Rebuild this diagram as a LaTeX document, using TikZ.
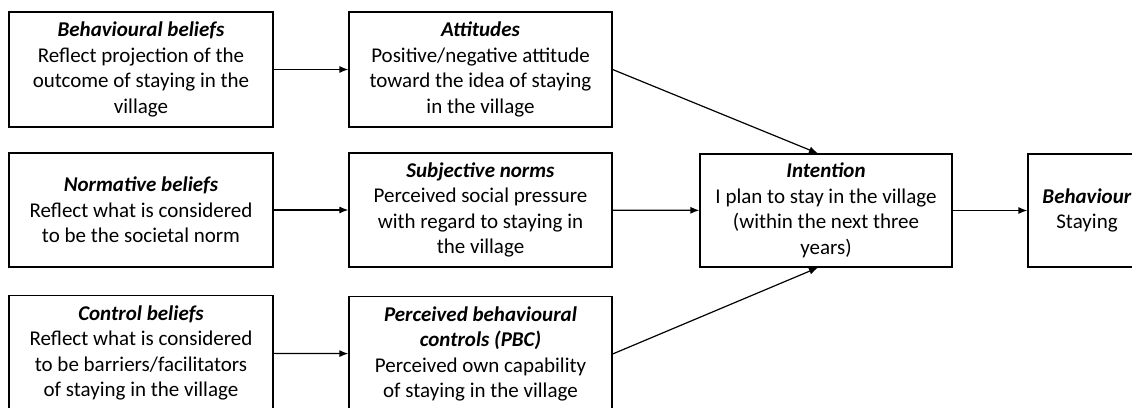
\documentclass[tikz,border=0pt]{standalone}
\usepackage{fontspec}
\setmainfont{Carlito}
\usetikzlibrary{arrows.meta}

\tikzset{
  tpbbox/.style={draw, line width=1.2pt, align=center, inner sep=0pt,
    minimum height=115pt, minimum width=264pt,
    font=\fontsize{21}{25.5}\selectfont},
  tpbarrow/.style={line width=1.2pt, -{Latex[length=9pt,width=7pt]}}
}
\newcommand{\boxtitle}[1]{\textbf{\textit{#1}}}

\begin{document}
\begin{tikzpicture}[x=1pt,y=-1pt]
        \useasboundingbox (0,0) rectangle (1132,407);

        % Beliefs (left column)
        \node[tpbbox] (behbeliefs) at (141,69.5) {\boxtitle{Behavioural beliefs}\\Reflect projection of the\\outcome of staying in the\\village};
        \node[tpbbox, minimum height=114pt] (normbeliefs) at (141,210) {\boxtitle{Normative beliefs}\\Reflect what is considered\\to be the societal norm};
        \node[tpbbox] (ctrlbeliefs) at (141,353) {\boxtitle{Control beliefs}\\Reflect what is considered\\to be barriers/facilitators\\of staying in the village};

        % Determinants (middle column)
        \node[tpbbox, minimum width=263pt] (attitudes) at (480.5,69.5) {\boxtitle{Attitudes}\\Positive/negative attitude\\toward the idea of staying\\in the village};
        \node[tpbbox, minimum width=263pt, minimum height=114pt] (subjnorms) at (480.5,210) {\boxtitle{Subjective norms}\\Perceived social pressure\\with regard to staying in\\the village};
        \node[tpbbox, minimum width=263pt] (pbc) at (480.5,354) {\boxtitle{Perceived behavioural}\\\boxtitle{controls (PBC)}\\Perceived own capability\\of staying in the village};

        % Intention and behaviour
        \node[tpbbox, minimum width=252pt, minimum height=113pt] (intention) at (826,210.5) {\boxtitle{Intention}\\I plan to stay in the village\\(within the next three\\years)};
        \node[tpbbox, minimum width=118pt, minimum height=113pt] (behaviour) at (1087,210.5) {\boxtitle{Behaviour}\\Staying};

        % Arrows
        \draw[tpbarrow] (behbeliefs) -- (attitudes);
        \draw[tpbarrow] (normbeliefs) -- (subjnorms);
        \draw[tpbarrow] (ctrlbeliefs) -- (pbc);
        \draw[tpbarrow] (attitudes.east) -- ([xshift=-8pt]intention.north);
        \draw[tpbarrow] (subjnorms) -- (intention);
        \draw[tpbarrow] (pbc.east) -- ([xshift=-8pt]intention.south);
        \draw[tpbarrow] (intention) -- (behaviour);

    \end{tikzpicture}
\end{document}
